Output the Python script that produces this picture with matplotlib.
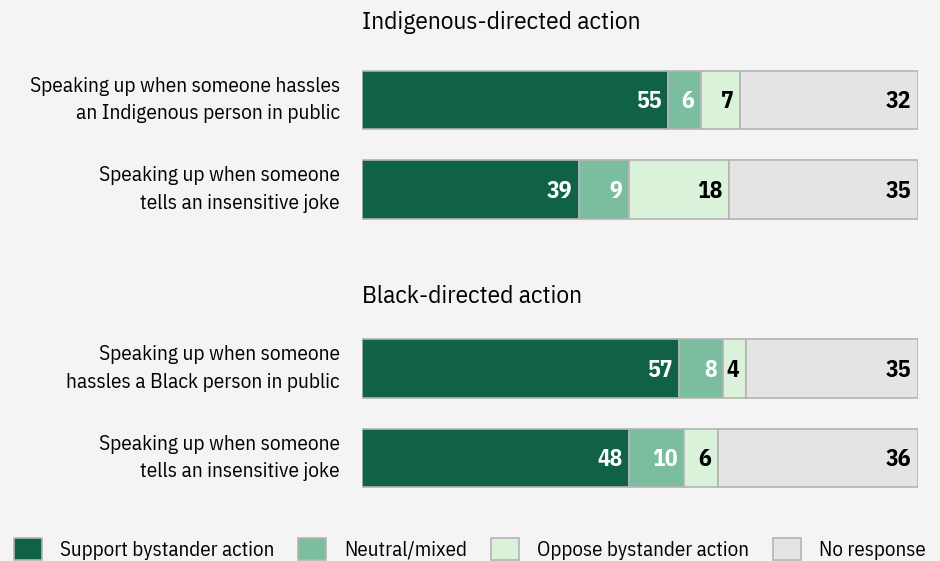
import numpy as np
import matplotlib.pyplot as plt

plt.rcParams['font.family'] = ['IBM Plex Sans Condensed', 'DejaVu Sans']

rows = ['Speaking up when someone hassles\nan Indigenous person in public',
        'Speaking up when someone\ntells an insensitive joke',
        'Speaking up when someone\nhassles a Black person in public',
        'Speaking up when someone\ntells an insensitive joke']
groups = ['Indigenous-directed action', 'Black-directed action']
series = ['Support bystander action', 'Neutral/mixed', 'Oppose bystander action', 'No response']
support = [55, 39, 57, 48]
neutral = [6, 9, 8, 10]
oppose = [7, 18, 4, 6]
no_resp = [32, 35, 35, 36]

colors = ['#0f6147', '#7bbd9f', '#daf1da', '#e4e4e4']
txt_colors = ['white', 'white', 'black', 'black']
bg = '#f4f4f4'

fig = plt.figure(figsize=(9.4, 5.61), dpi=100, facecolor=bg)
ax = fig.add_axes([362/940, 0, 556/940, 1])
ax.set_facecolor(bg)

ypos = np.array([0, 1, 3, 4])
h = 0.65
vals = [support, neutral, oppose, no_resp]
left = np.zeros(4)
for i, v in enumerate(vals):
    v = np.array(v, dtype=float)
    # last segment fills the rest of the bar (figures are rounded)
    w = 100 - left if i == 3 else v
    ax.barh(ypos, w, left=left, height=h, color=colors[i],
            edgecolor='#b4b4b4', linewidth=1.2, label=series[i])
    for y, l, ww, lab in zip(ypos, left, w, v):
        ax.text(l + ww - 1.2, y + 0.02, f'{lab:.0f}', ha='right', va='center',
                color=txt_colors[i], fontsize=17, fontweight='bold')
    left = left + w

for y, lab in zip(ypos, rows):
    ax.text(-4, y, lab, ha='right', va='center', fontsize=15.3,
            linespacing=1.55, clip_on=False)

ax.text(0, -0.87, groups[0], ha='left', va='center', fontsize=18.3)
ax.text(0, 2.2, groups[1], ha='left', va='center', fontsize=18.3)

ax.set_xlim(0, 100)
ax.set_ylim(5.15, -1.117)
ax.axis('off')

handles, labels = ax.get_legend_handles_labels()
leg = fig.legend(handles, labels, loc='lower left', bbox_to_anchor=(14/940, 0.002),
                 ncol=4, frameon=False, fontsize=15, handlelength=1.35,
                 handleheight=1.2, handletextpad=0.85, columnspacing=1.15,
                 borderpad=0, borderaxespad=0)

plt.savefig('out.png', dpi=100, facecolor=bg)
